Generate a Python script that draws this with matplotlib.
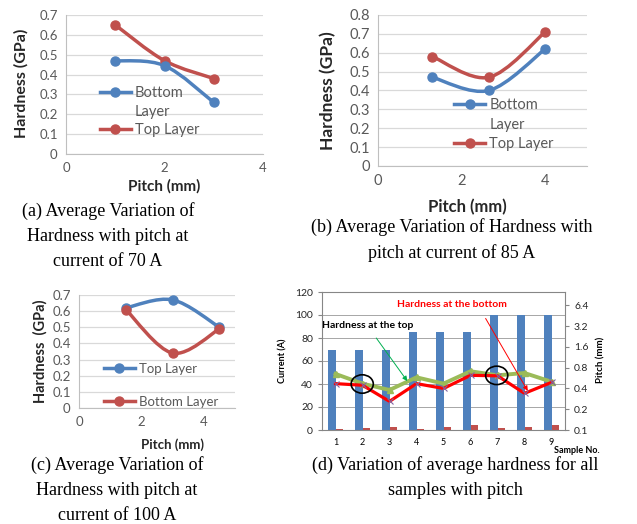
import numpy as np
import matplotlib
matplotlib.use("Agg")
import matplotlib.pyplot as plt
from matplotlib.path import Path
from matplotlib.patches import PathPatch, Ellipse
from matplotlib.lines import Line2D

# data
# (a) current 70 A
pitch_a = [1.0, 2.0, 3.0]
top_a = [0.65, 0.47, 0.38]
bottom_a = [0.47, 0.445, 0.26]
# (b) current 85 A
pitch_b = [1.3, 2.65, 4.0]
top_b = [0.58, 0.47, 0.71]
bottom_b = [0.47, 0.40, 0.62]
# (c) current 100 A
pitch_c = [1.5, 3.0, 4.5]
top_c = [0.62, 0.67, 0.50]
bottom_c = [0.61, 0.34, 0.49]
# (d) all samples
samples = ['1', '2', '3', '4', '5', '6', '7', '8', '9']
current = [70, 70, 70, 85, 85, 85, 100, 100, 100]
pitch_all = [1.0, 2.0, 3.0, 1.3, 2.65, 4.0, 1.5, 3.0, 4.5]
top_all = [0.65, 0.47, 0.38, 0.58, 0.47, 0.71, 0.62, 0.67, 0.50]
bottom_all = [0.47, 0.445, 0.26, 0.47, 0.40, 0.62, 0.61, 0.34, 0.49]

BLUE = '#4F81BD'
RED = '#C0504D'
GREEN = '#9BBB59'
PURPLE = '#8064A2'
TXT = '#595959'

plt.rcParams['font.family'] = ['Lato', 'DejaVu Sans']

W, H = 637, 524
fig = plt.figure(figsize=(W / 100, H / 100), dpi=100)


def px_axes(l, t, r, b):
    return fig.add_axes([l / W, 1 - b / H, (r - l) / W, (b - t) / H])


def smooth_line(ax, x, y, color):
    # excel-style smoothed line: bezier segments through the points
    pts = np.column_stack([x, y])
    n = len(pts)
    verts = [pts[0]]
    codes = [Path.MOVETO]
    for i in range(n - 1):
        p0 = pts[max(i - 1, 0)]
        p1 = pts[i]
        p2 = pts[i + 1]
        p3 = pts[min(i + 2, n - 1)]
        verts += [p1 + (p2 - p0) / 6, p2 - (p3 - p1) / 6, p2]
        codes += [Path.CURVE4] * 3
    ax.add_patch(PathPatch(Path(verts, codes), fill=False, edgecolor=color,
                           linewidth=2.5, capstyle='round', zorder=3))
    ax.plot(x, y, 'o', color=color, markersize=6.5, zorder=4)


def hardness_axes(ax, xmax, ymax, tick_fs, ylab, ylab_fs, xlab_fs):
    ax.set_xlim(0, xmax)
    ax.set_ylim(0, ymax)
    ax.set_xticks([0, 2, 4])
    ax.set_yticks(np.arange(0, ymax + 0.01, 0.1))
    ax.set_yticklabels(['%g' % v for v in np.arange(0, ymax + 0.01, 0.1)])
    ax.grid(axis='y', color='#D9D9D9', linewidth=0.9)
    ax.set_axisbelow(True)
    for s in ['top', 'right']:
        ax.spines[s].set_visible(False)
    for s in ['left', 'bottom']:
        ax.spines[s].set_color('#BFBFBF')
    ax.tick_params(length=0, labelcolor=TXT, labelsize=tick_fs, pad=6)
    ax.set_ylabel(ylab, fontweight='bold', fontsize=ylab_fs, color='#262626')
    ax.set_xlabel('Pitch (mm)', fontweight='bold', fontsize=xlab_fs, color='#262626')


def legend_handle(color):
    return Line2D([], [], color=color, marker='o', markersize=6.5, linewidth=2.5)


blank = Line2D([], [], linestyle='none')

# (a)
ax_a = px_axes(66, 15, 263, 154)
smooth_line(ax_a, pitch_a, top_a, RED)
smooth_line(ax_a, pitch_a, bottom_a, BLUE)
hardness_axes(ax_a, 4, 0.7, 9.5, 'Hardness (GPa)', 11.5, 11)
ax_a.xaxis.set_label_coords(0.5, -0.18)
ax_a.yaxis.set_label_coords(-0.19, 0.51)
ax_a.legend([legend_handle(BLUE), blank, legend_handle(RED)],
            ['Bottom', 'Layer', 'Top Layer'], loc='upper left',
            bbox_to_anchor=(0.135, 0.54), frameon=False, fontsize=10.5,
            labelcolor=TXT, handlelength=2.1, handletextpad=0.3,
            labelspacing=0.3, borderpad=0)

# (b)
ax_b = px_axes(378, 15, 587, 166)
smooth_line(ax_b, pitch_b, top_b, RED)
smooth_line(ax_b, pitch_b, bottom_b, BLUE)
hardness_axes(ax_b, 5, 0.8, 10.5, 'Hardness (GPa)', 12.5, 12)
ax_b.xaxis.set_label_coords(0.43, -0.22)
ax_b.yaxis.set_label_coords(-0.2, 0.5)
ax_b.legend([legend_handle(BLUE), blank, legend_handle(RED)],
            ['Bottom', 'Layer', 'Top Layer'], loc='upper left',
            bbox_to_anchor=(0.33, 0.5), frameon=False, fontsize=10.5,
            labelcolor=TXT, handlelength=2.1, handletextpad=0.3,
            labelspacing=0.4, borderpad=0)

# (c)
ax_c = px_axes(79, 295, 235, 408)
smooth_line(ax_c, pitch_c, top_c, BLUE)
smooth_line(ax_c, pitch_c, bottom_c, RED)
hardness_axes(ax_c, 5, 0.7, 9.5, 'Hardness  (GPa)', 10.5, 9.5)
ax_c.xaxis.set_label_coords(0.6, -0.27)
ax_c.yaxis.set_label_coords(-0.2, 0.5)
ax_c.legend([legend_handle(BLUE), legend_handle(RED)],
            ['Top Layer', 'Bottom Layer'], loc='upper left',
            bbox_to_anchor=(0.12, 0.46), frameon=False, fontsize=9.5,
            labelcolor=TXT, handlelength=2.3, handletextpad=0.3,
            labelspacing=1.6, borderpad=0)

# (d)
ax_d = px_axes(322, 292, 565, 430)
idx = np.arange(len(samples))
bw = 0.26
ax_d.bar(idx - bw / 2, current, width=bw, color=BLUE, zorder=2)
ax_d.bar(idx + bw / 2, pitch_all, width=bw, color=RED, zorder=2)
ax_d.set_xlim(-0.5, len(samples) - 0.5)
ax_d.set_ylim(0, 120)
ax_d.set_yticks(np.arange(0, 121, 20))
ax_d.set_xticks(idx)
ax_d.set_xticklabels(samples)
ax_d.set_xticks(np.arange(-0.5, len(samples), 1), minor=True)
ax_d.grid(axis='y', color='#A6A6A6', linewidth=0.7)
ax_d.set_axisbelow(True)
for s in ax_d.spines.values():
    s.set_color('#868686')
    s.set_linewidth(0.8)
ax_d.tick_params(axis='x', which='major', length=0, labelsize=6.5, pad=6)
ax_d.tick_params(axis='x', which='minor', length=3, color='#868686')
ax_d.tick_params(axis='y', length=3, color='#868686', labelsize=7.5, labelcolor='#262626')
ax_d.set_ylabel('Current (A)', fontweight='bold', fontsize=6.5)
ax_d.yaxis.set_label_coords(-0.14, 0.5)
ax_d.text(0.955, -0.145, 'Sample No.', transform=ax_d.transAxes, fontsize=6.5,
          fontweight='bold', ha='left', va='center')

ax_r = ax_d.twinx()
ax_r.set_yscale('log', base=2)
ax_r.set_ylim(0.1, 10)
rticks = [0.1, 0.2, 0.4, 0.8, 1.6, 3.2, 6.4]
ax_r.set_yticks(rticks)
ax_r.set_yticklabels(['%g' % v for v in rticks])
ax_r.minorticks_off()
ax_r.tick_params(axis='y', length=3, color='#868686', labelsize=7.5, labelcolor='#262626')
for s in ax_r.spines.values():
    s.set_visible(False)
ax_r.set_ylabel('Pitch (mm)', fontweight='bold', fontsize=7)
ax_r.yaxis.set_label_coords(1.13, 0.51)
ax_r.plot(idx, top_all, color=GREEN, linewidth=2.8, marker='^', markersize=5, zorder=3)
ax_r.plot(idx, bottom_all, color='#FF0000', linewidth=2.3, marker='x',
          markersize=5, markeredgecolor=PURPLE, markeredgewidth=0.8, zorder=4)

for cx, cy in [(0.99, 40), (5.97, 47.5)]:
    ax_r.add_patch(Ellipse((cx, cy), 0.82, 16, transform=ax_d.transData,
                           fill=False, edgecolor='black', linewidth=1.2, zorder=5))
ax_r.annotate('', xy=(2.66, 42.5), xytext=(1.51, 80), xycoords=ax_d.transData,
              textcoords=ax_d.transData,
              arrowprops=dict(arrowstyle='-|>', color='#00B050', lw=0.7,
                              mutation_scale=7, shrinkA=0, shrinkB=0))
ax_r.annotate('', xy=(7.12, 34), xytext=(5.56, 97), xycoords=ax_d.transData,
              textcoords=ax_d.transData,
              arrowprops=dict(arrowstyle='-|>', color='#FF0000', lw=0.7,
                              mutation_scale=7, shrinkA=0, shrinkB=0))
ax_r.text(-0.5, 91, 'Hardness at the top', transform=ax_d.transData,
          fontsize=7.5, fontweight='bold', color='black', ha='left', va='center', zorder=6)
ax_r.text(4.33, 109, 'Hardness at the bottom', transform=ax_d.transData,
          fontsize=7.5, fontweight='bold', color='#FF0000', ha='center', va='center', zorder=6)

# captions
cap = dict(family='Liberation Serif', fontsize=13, ha='center', va='top',
           linespacing=1.6, color='black')
fig.text(108 / W, 1 - 202 / H,
         '(a) Average Variation of\nHardness with pitch at\ncurrent of 70 A', **cap)
fig.text(452 / W, 1 - 218 / H,
         '(b) Average Variation of Hardness with\npitch at current of 85 A', **cap)
fig.text(117 / W, 1 - 456 / H,
         '(c) Average Variation of\nHardness with pitch at\ncurrent of 100 A', **cap)
fig.text(455 / W, 1 - 456 / H,
         '(d) Variation of average hardness for all\nsamples with pitch', **cap)

fig.savefig('out.png', dpi=100)
